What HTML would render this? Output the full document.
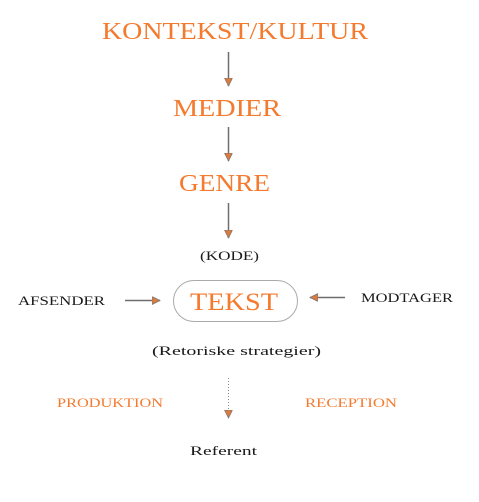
<!DOCTYPE html>
<html><head><meta charset="utf-8"><style>
html,body{margin:0;padding:0;background:#fff;}
svg{display:block}
text{font-family:"Liberation Serif",serif;}
.o{fill:#f47a2e}
.k{fill:#1a1a1a}
</style></head><body>
<svg width="479" height="502" viewBox="0 0 479 502" xmlns="http://www.w3.org/2000/svg">
<defs>
<marker id="a" markerWidth="10" markerHeight="10" refX="8" refY="4" orient="auto" markerUnits="userSpaceOnUse">
<path d="M0,0 L8,4 L0,8 Z" fill="#e07a3c" stroke="#777" stroke-width="0.8"/>
</marker>
</defs>
<text class="o" x="102" y="39" font-size="24" textLength="266" lengthAdjust="spacingAndGlyphs">KONTEKST/KULTUR</text>
<line x1="228.5" y1="52" x2="228.5" y2="86" stroke="#6e6e6e" stroke-width="1.5" marker-end="url(#a)"/>
<text class="o" x="173" y="116" font-size="24" textLength="108" lengthAdjust="spacingAndGlyphs">MEDIER</text>
<line x1="228.5" y1="127" x2="228.5" y2="161" stroke="#6e6e6e" stroke-width="1.5" marker-end="url(#a)"/>
<text class="o" x="179" y="191" font-size="24" textLength="91" lengthAdjust="spacingAndGlyphs">GENRE</text>
<line x1="228.5" y1="203" x2="228.5" y2="238" stroke="#6e6e6e" stroke-width="1.5" marker-end="url(#a)"/>
<text class="k" x="200" y="260" font-size="13" textLength="59" lengthAdjust="spacingAndGlyphs">(KODE)</text>
<rect x="173.5" y="280.5" width="124" height="41" rx="20.5" fill="#fff" stroke="#aaa" stroke-width="1"/>
<text class="o" x="190" y="310" font-size="25" textLength="88" lengthAdjust="spacingAndGlyphs">TEKST</text>
<text class="k" x="18" y="305" font-size="13" textLength="87" lengthAdjust="spacingAndGlyphs">AFSENDER</text>
<line x1="125" y1="300.5" x2="160" y2="300.5" stroke="#6e6e6e" stroke-width="1.5" marker-end="url(#a)"/>
<text class="k" x="361" y="302" font-size="13" textLength="92" lengthAdjust="spacingAndGlyphs">MODTAGER</text>
<line x1="345" y1="297.5" x2="310" y2="297.5" stroke="#6e6e6e" stroke-width="1.5" marker-end="url(#a)"/>
<text class="k" x="152" y="355" font-size="13" textLength="169" lengthAdjust="spacingAndGlyphs">(Retoriske strategier)</text>
<line x1="228.5" y1="378" x2="228.5" y2="418" stroke="#888" stroke-width="1" stroke-dasharray="1,2" marker-end="url(#a)"/>
<text class="o" x="57" y="407" font-size="13" textLength="106" lengthAdjust="spacingAndGlyphs">PRODUKTION</text>
<text class="o" x="305" y="407" font-size="13" textLength="92" lengthAdjust="spacingAndGlyphs">RECEPTION</text>
<text class="k" x="190" y="455" font-size="13" textLength="67" lengthAdjust="spacingAndGlyphs">Referent</text>
</svg>
</body></html>
